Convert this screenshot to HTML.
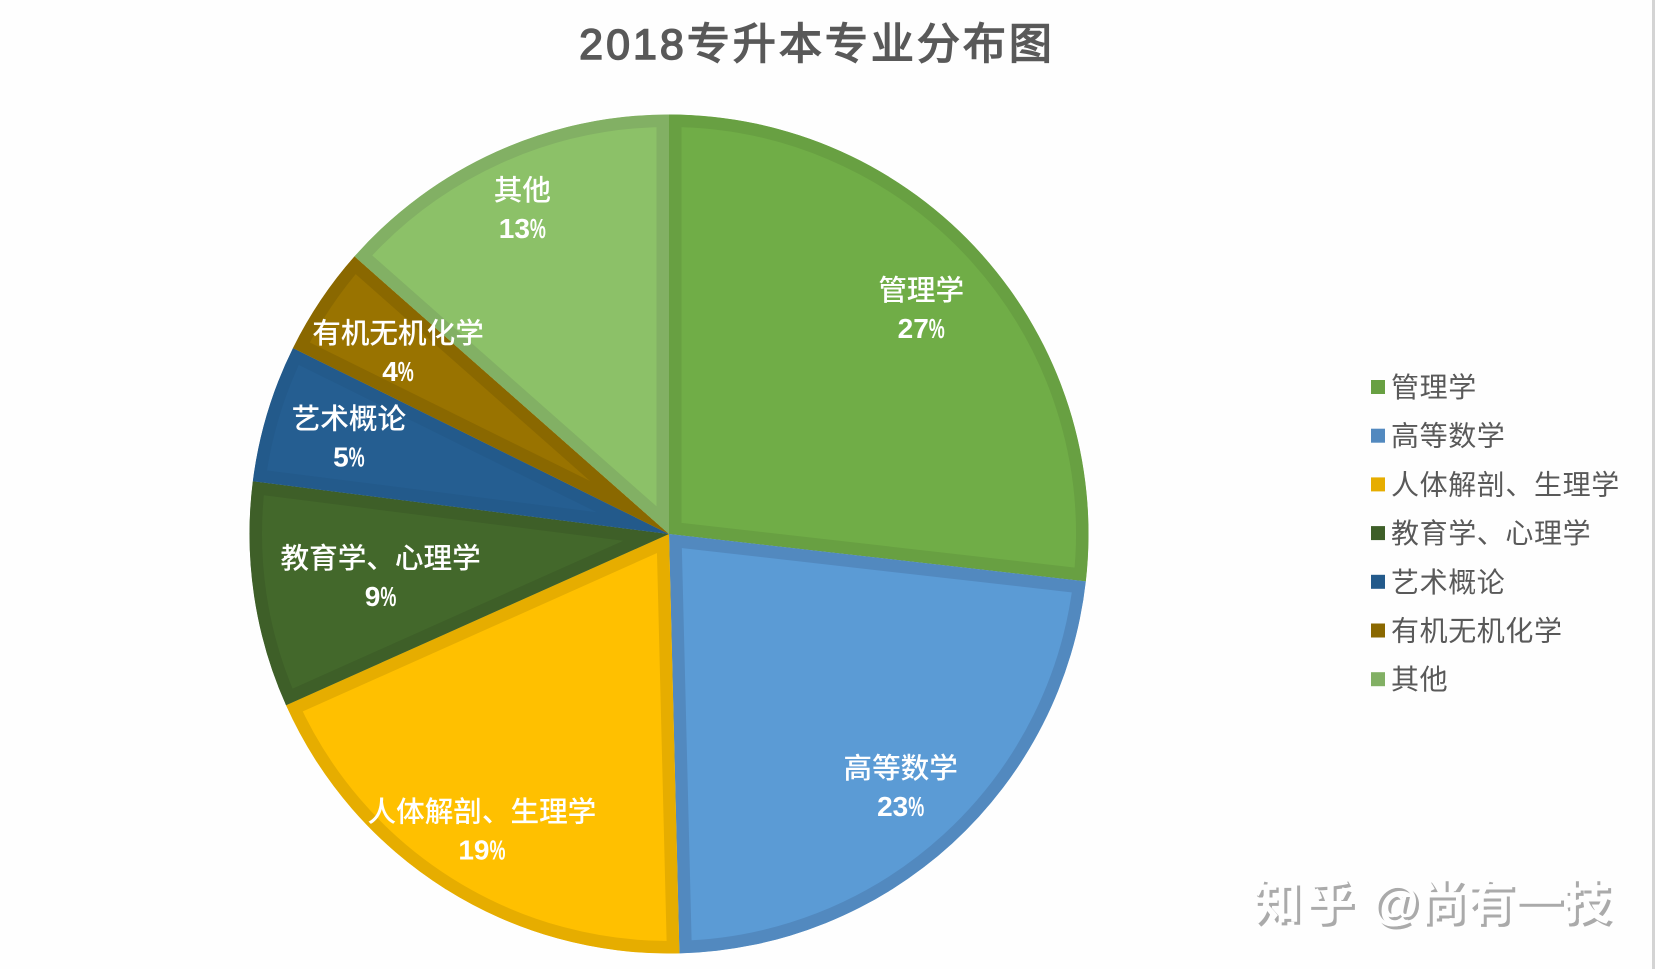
<!DOCTYPE html>
<html lang="zh-CN">
<head>
<meta charset="utf-8">
<title>2018专升本专业分布图</title>
<style>
html,body{margin:0;padding:0;background:#fefefe;}
body{width:1655px;height:969px;overflow:hidden;position:relative;}
svg{display:block;position:absolute;left:0;top:0;}
text{font-family:"Liberation Sans","Noto Sans CJK SC",sans-serif;}
</style>
</head>
<body>
<svg id="chart" width="1655" height="969" viewBox="0 0 1655 969" xmlns="http://www.w3.org/2000/svg">
  <defs id="clips"></defs>
  <rect x="1652" y="0" width="3" height="969" fill="#d4d4d4"></rect>
  <text x="817" y="59" text-anchor="middle" font-size="43" font-weight="400" letter-spacing="3" fill="#595959" stroke="#595959" stroke-width="1.5">2018专升本专业分布图</text>
  <g id="slices"></g>
  <g id="labels"></g>
  <g id="legend"></g>
  <g font-size="48" font-weight="700">
    <text x="1256" y="922" fill="#aaaaaa" letter-spacing="5">知乎</text>
    <text x="1375" y="922" fill="#aaaaaa">@尚有一技</text>
    <text x="1253" y="919" fill="#fefefe" letter-spacing="5">知乎</text>
    <text x="1372" y="919" fill="#fefefe">@尚有一技</text>
  </g>
</svg>
<script>
const categories = ['管理学', '高等数学', '人体解剖、生理学', '教育学、心理学', '艺术概论', '有机无机化学', '其他'];
const shareValues = [26.8, 22.8, 18.7, 8.7, 5.3, 4.2, 13.49];
const fillColors = ['#70ad47', '#5b9bd5', '#ffc000', '#43682b', '#255e91', '#997300', '#8cc168'];
const edgeColors = ['#68a042', '#5289bf', '#e6ad00', '#3e5f28', '#235a8b', '#8a6800', '#82b064'];

const NS = 'http://www.w3.org/2000/svg';
const CX = 669, CY = 534, R = 419.5, EDGE = 12.5;
const LABEL_REACH = [0.806, 0.818, 0.836, 0.695, 0.797, 0.778, 0.85];
const total = shareValues.reduce(function (a, b) { return a + b; }, 0);

function angleScale(cum) { return cum / total * 2 * Math.PI; }
function px(a, r) { return CX + r * Math.sin(a); }
function py(a, r) { return CY - r * Math.cos(a); }
function slicePath(a0, a1) {
  const large = a1 - a0 > Math.PI ? 1 : 0;
  return 'M' + CX + ' ' + CY + 'L' + px(a0, R) + ' ' + py(a0, R) +
         'A' + R + ' ' + R + ' 0 ' + large + ' 1 ' + px(a1, R) + ' ' + py(a1, R) + 'Z';
}

const clips = document.getElementById('clips');
const slicesG = document.getElementById('slices');
const labelsG = document.getElementById('labels');
const legendG = document.getElementById('legend');

let cum = 0;
shareValues.forEach(function (v, i) {
  const a0 = angleScale(cum);
  const a1 = angleScale(cum + v);
  cum += v;
  const d = slicePath(a0, a1);

  const clip = document.createElementNS(NS, 'clipPath');
  clip.setAttribute('id', 'clip-' + i);
  const cp = document.createElementNS(NS, 'path');
  cp.setAttribute('d', d);
  clip.appendChild(cp);
  clips.appendChild(clip);

  const path = document.createElementNS(NS, 'path');
  path.setAttribute('d', d);
  path.setAttribute('fill', fillColors[i]);
  path.setAttribute('stroke', edgeColors[i]);
  path.setAttribute('stroke-width', EDGE * 2);
  path.setAttribute('stroke-linejoin', 'miter');
  path.setAttribute('stroke-miterlimit', '40');
  path.setAttribute('clip-path', 'url(#clip-' + i + ')');
  
  
  slicesG.appendChild(path);

  const mid = (a0 + a1) / 2;
  const lx = px(mid, R * LABEL_REACH[i]);
  const ly = py(mid, R * LABEL_REACH[i]);

  const name = document.createElementNS(NS, 'text');
  name.setAttribute('x', lx);
  name.setAttribute('y', ly - 9);
  name.setAttribute('text-anchor', 'middle');
  name.setAttribute('font-size', '28.6');
  name.setAttribute('font-weight', '500');
  name.setAttribute('fill', '#ffffff');
  
  
  name.textContent = categories[i];
  labelsG.appendChild(name);

  const pct = document.createElementNS(NS, 'text');
  const digits = String(Math.round(v / total * 100));
  pct.setAttribute('x', lx);
  pct.setAttribute('y', ly + 29);
  pct.setAttribute('text-anchor', 'middle');
  pct.setAttribute('font-size', '28');
  pct.setAttribute('font-weight', '700');
  pct.setAttribute('fill', '#ffffff');
  
  
  const digitSpan = document.createElementNS(NS, 'tspan');
  digitSpan.textContent = digits;
  const signSpan = document.createElementNS(NS, 'tspan');
  signSpan.setAttribute('textLength', '16');
  signSpan.setAttribute('lengthAdjust', 'spacingAndGlyphs');
  signSpan.textContent = '%';
  pct.appendChild(digitSpan);
  pct.appendChild(signSpan);
  labelsG.appendChild(pct);

  const row = 387 + i * 48.7;
  const sw = document.createElementNS(NS, 'rect');
  sw.setAttribute('x', 1371);
  sw.setAttribute('y', row - 7);
  sw.setAttribute('width', 14);
  sw.setAttribute('height', 14);
  sw.setAttribute('fill', edgeColors[i]);
  
  
  legendG.appendChild(sw);

  const lt = document.createElementNS(NS, 'text');
  lt.setAttribute('x', 1391);
  lt.setAttribute('y', row + 10);
  lt.setAttribute('font-size', '28');
  lt.setAttribute('letter-spacing', '0.6');
  lt.setAttribute('fill', '#595959');
  
  
  lt.textContent = categories[i];
  legendG.appendChild(lt);
});
</script>
</body>
</html>
